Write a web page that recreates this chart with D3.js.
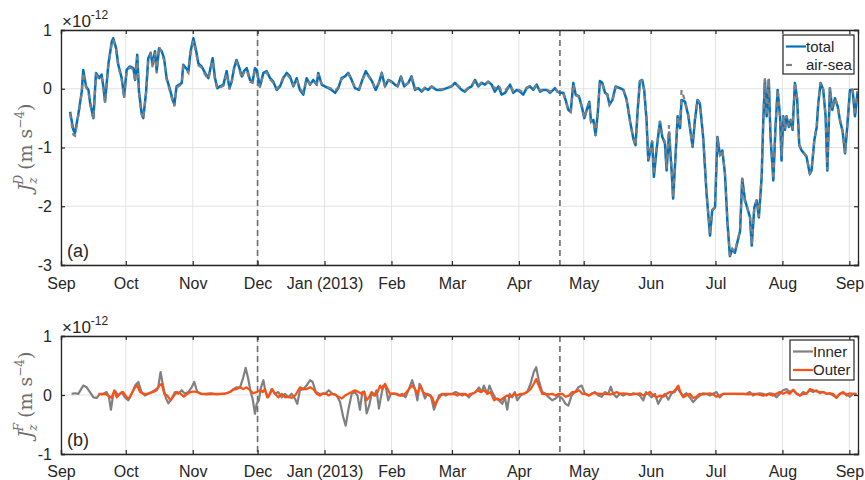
<!DOCTYPE html>
<html>
<head>
<meta charset="utf-8">
<script src="https://cdn.jsdelivr.net/npm/d3@7"></script>
<style>
  body { margin: 0; background: #fff; }
  text { font-family: "Liberation Sans", Arial, sans-serif; fill: #262626; }
</style>
</head>
<body>
<svg id="chart" width="865" height="480"></svg>
<script>
// days since 1 Sep 2012, values in units of 1e-12 m s^-4
const monthLabels = ["Sep", "Oct", "Nov", "Dec", "Jan (2013)", "Feb", "Mar", "Apr", "May", "Jun", "Jul", "Aug", "Sep"];
const topTicks = [-3, -2, -1, 0, 1];
const bottomTicks = [-1, 0, 1];
const eventDays = [91, 231];

const total = [
  [4.2,-0.39],[5.7,-0.70],[6.5,-0.75],[8,-0.44],[9.6,-0.05],[10.3,0.32],[11.6,0.04],[12.7,-0.02],[13.4,-0.22],[15,-0.50],
  [16.2,0.27],[17.7,0.18],[18.8,0.24],[19.6,0.04],[20.4,-0.22],[21.9,0.41],[23.5,0.80],[24.2,0.86],[25.5,0.69],[26.5,0.41],
  [28.1,0.18],[29.2,-0.13],[30.4,0.32],[31.9,0.38],[33.5,0.35],[34.3,0.15],[35.3,0.58],[36.1,-0.05],[37.3,-0.41],[38.1,-0.50],
  [39.4,-0.05],[40.4,0.52],[41.5,0.61],[42.4,0.41],[43.5,0.64],[44.3,0.30],[45.4,0.69],[46.6,0.64],[47.7,0.52],[48.9,0.18],
  [50.5,-0.02],[51.7,-0.19],[52.5,-0.27],[53.5,0.04],[54.8,0.07],[55.9,0.10],[56.6,0.41],[57.9,0.35],[59,0.30],[60,0.64],
  [61.3,0.86],[62.5,0.66],[63.6,0.43],[65.1,0.38],[66.7,0.27],[68.2,0.18],[70.2,0.52],[71.3,0.18],[72.4,0.01],[73.6,0.04],
  [75.2,0.07],[76.7,0.30],[78,0.01],[79,0.12],[80.1,0.35],[81.3,0.49],[82.6,0.35],[83.7,0.21],[84.7,0.30],[86,0.35],
  [87.5,0.15],[88.7,0.12],[89.8,0.35],[90.6,0.32],[92.1,0.04],[93.7,0.27],[95.2,0.30],[96.8,0.18],[98.3,0.12],[99.9,-0.02],
  [101.4,0.04],[102.9,0.18],[104.5,0.27],[106,0.21],[107.6,0.04],[109.1,0.18],[110.6,-0.02],[112.2,-0.10],[113.7,0.18],[115.3,0.07],
  [116.8,0.15],[118.4,0.07],[119.1,0.27],[120.7,0.07],[122.2,0.04],[123.8,0.01],[125.3,-0.02],[126.9,-0.07],[128.4,0.01],[129.9,0.18],
  [131.5,0.21],[133,0.27],[134.6,0.15],[136.1,0.01],[138,-0.02],[139.5,0.15],[141.1,0.30],[142.6,0.21],[144.1,0.12],[145.7,-0.02],
  [147.2,0.10],[148.5,0.27],[150,0.04],[151.5,0.15],[153.1,0.12],[154.6,0.07],[155.9,0.04],[157.4,0.21],[158.9,0.04],[160.8,0.10],
  [162.3,0.21],[163.9,-0.02],[165.4,0.01],[167,-0.05],[168.5,0.01],[170,-0.02],[171.6,0.04],[173.9,-0.02],[176.3,-0.02],[178.6,0.01],
  [180.9,0.04],[182.4,0.10],[183.9,0.04],[185.5,-0.02],[187,-0.05],[188.6,0.01],[190.1,0.04],[191.7,0.15],[193.2,0.04],[194.8,0.10],
  [196.3,0.07],[197.8,0.12],[199.4,0.07],[200.9,-0.05],[202.5,0.04],[204,-0.10],[205.6,-0.07],[207.9,0.07],[209.4,-0.07],[211,-0.02],
  [212.5,-0.05],[214,-0.10],[215.6,0.01],[217.1,0.04],[218.7,-0.02],[220.2,0.07],[221.8,-0.05],[223.3,-0.02],[224.9,-0.02],[226.4,-0.07],
  [227.9,-0.02],[228.7,0.01],[229.9,-0.05],[231,-0.07],[232.6,-0.07],[233.6,-0.19],[234.9,-0.36],[236,-0.39],[237.2,0.10],[238.3,-0.10],
  [239.8,-0.13],[241.1,-0.30],[242.3,-0.50],[243.4,-0.36],[244.6,-0.22],[245.4,-0.56],[246.5,-0.53],[247.5,-0.79],[248.5,-0.42],[249.5,0.13],
  [250.6,0.10],[251.9,-0.07],[253,-0.10],[253.9,-0.27],[255.3,-0.19],[256.8,0.04],[258.8,0.01],[260.4,-0.02],[261.9,-0.19],[263.5,-0.56],
  [265,-0.85],[266,-0.96],[267,-0.36],[268,0.13],[269.1,0.15],[270,-0.02],[271.1,-0.53],[271.9,-1.22],[272.6,-1.10],[273.7,-0.90],
  [274.5,-1.50],[275.7,-1.05],[277.3,-0.56],[278.4,-0.82],[279.6,-0.93],[280.4,-1.39],[281.5,-0.75],[282.7,-1.39],[283.4,-1.87],[284.5,-1.16],
  [285.5,-0.47],[286.6,-0.67],[287.3,-0.19],[288.9,-0.22],[290.4,-0.45],[292.4,-0.99],[293.5,-0.53],[294.7,-0.19],[295.8,-0.25],[297.3,-0.82],
  [298.9,-1.79],[300.5,-2.50],[301.5,-2.07],[302.8,-2.02],[303.9,-0.82],[305.1,-1.13],[306.2,-1.05],[307.4,-1.45],[308.6,-2.30],[309.7,-2.85],
  [310.8,-2.73],[312,-2.79],[313.3,-2.59],[314.4,-2.42],[315.4,-1.53],[316.7,-1.90],[317.9,-2.05],[319,-2.19],[319.8,-2.67],[321,-2.02],
  [322.1,-1.90],[323.1,-2.19],[324.4,-1.50],[325.1,-0.59],[325.9,0.15],[326.7,-0.47],[327.7,0.15],[328.5,-0.82],[329.8,-1.56],[330.8,-0.65],
  [331.8,-0.02],[332.9,-0.47],[333.6,-1.22],[334.4,-0.47],[335.2,-0.70],[335.9,-0.47],[337,-0.65],[337.9,-0.53],[338.7,-0.70],[339.8,0.10],
  [340.8,-0.16],[341.8,-0.96],[342.9,-1.05],[344,-1.10],[345.2,-1.16],[346.7,-1.45],[347.5,-1.39],[348.8,-0.87],[349.9,-0.65],[350.6,-0.25],
  [351.7,0.10],[352.9,-0.02],[354,-0.47],[354.8,-1.39],[356,0.01],[357.1,-0.36],[358.3,-0.16],[359.6,-0.30],[360.6,-0.53],[361.9,-0.73],
  [363,-1.10],[364,-0.65],[365.3,-0.02],[366.5,-0.02],[367.6,-0.47],[368.8,-0.05]
];

const airSea = [
  [4.2,-0.42],[5.7,-0.78],[6.5,-0.80],[8,-0.46],[9.6,-0.08],[10.3,0.28],[11.6,0.02],[12.7,-0.04],[13.4,-0.24],[15,-0.52],
  [16.2,0.24],[17.7,0.16],[18.8,0.20],[19.6,0.02],[20.4,-0.24],[21.9,0.38],[23.5,0.78],[24.2,0.84],[25.5,0.66],[26.5,0.38],
  [28.1,0.16],[29.2,-0.16],[30.4,0.30],[31.9,0.36],[33.5,0.33],[34.3,0.12],[35.3,0.55],[36.1,-0.08],[37.3,-0.44],[38.1,-0.52],
  [39.4,-0.08],[40.4,0.48],[41.5,0.58],[42.4,0.36],[43.5,0.62],[44.3,0.26],[45.4,0.72],[46.6,0.62],[47.7,0.48],[48.9,0.15],
  [50.5,-0.05],[51.7,-0.22],[52.5,-0.30],[53.5,0.02],[54.8,0.05],[55.9,0.08],[56.6,0.38],[57.9,0.32],[59,0.27],[60,0.60],
  [61.3,0.82],[62.5,0.62],[63.6,0.40],[65.1,0.36],[66.7,0.24],[68.2,0.16],[70.2,0.48],[71.3,0.15],[72.4,-0.01],[73.6,0.02],
  [75.2,0.05],[76.7,0.27],[78,-0.01],[79,0.10],[80.1,0.32],[81.3,0.45],[82.6,0.32],[83.7,0.18],[84.7,0.27],[86,0.32],
  [87.5,0.12],[88.7,0.10],[89.8,0.32],[90.6,0.28],[92.1,0.02],[93.7,0.24],[95.2,0.28],[96.8,0.16],[98.3,0.10],[99.9,0.00],
  [101.4,0.06],[102.9,0.20],[104.5,0.25],[106,0.18],[107.6,0.06],[109.1,0.16],[110.6,0.00],[112.2,-0.06],[113.7,0.16],[115.3,0.08],
  [116.8,0.14],[118.4,0.08],[119.1,0.25],[120.7,0.08],[122.2,0.05],[123.8,0.02],[125.3,0.00],[126.9,-0.04],[128.4,0.03],[129.9,0.16],
  [131.5,0.20],[133,0.25],[134.6,0.14],[136.1,0.02],[138,0.00],[139.5,0.14],[141.1,0.27],[142.6,0.20],[144.1,0.11],[145.7,0.00],
  [147.2,0.10],[148.5,0.25],[150,0.05],[151.5,0.14],[153.1,0.11],[154.6,0.07],[155.9,0.05],[157.4,0.19],[158.9,0.05],[160.8,0.10],
  [162.3,0.19],[163.9,0.00],[165.4,0.02],[167,-0.03],[168.5,0.02],[170,0.00],[171.6,0.04],[173.9,0.00],[176.3,-0.01],[178.6,0.02],
  [180.9,0.05],[182.4,0.10],[183.9,0.05],[185.5,0.00],[187,-0.03],[188.6,0.02],[190.1,0.05],[191.7,0.14],[193.2,0.06],[194.8,0.11],
  [196.3,0.08],[197.8,0.12],[199.4,0.08],[200.9,0.00],[202.5,0.07],[204,-0.05],[205.6,-0.03],[207.9,0.07],[209.4,-0.04],[211,0.00],
  [212.5,-0.03],[214,-0.06],[215.6,0.02],[217.1,0.05],[218.7,0.00],[220.2,0.07],[221.8,-0.03],[223.3,-0.01],[224.9,-0.01],[226.4,-0.05],
  [227.9,-0.01],[228.7,0.01],[229.9,-0.05],[231,-0.08],[232.6,-0.08],[233.6,-0.20],[234.9,-0.37],[236,-0.40],[237.2,0.08],[238.3,-0.11],
  [239.8,-0.14],[241.1,-0.31],[242.3,-0.51],[243.4,-0.37],[244.6,-0.23],[245.4,-0.57],[246.5,-0.54],[247.5,-0.80],[248.5,-0.43],[249.5,0.12],
  [250.6,0.09],[251.9,-0.08],[253,-0.11],[253.9,-0.28],[255.3,-0.20],[256.8,0.03],[258.8,0.00],[260.4,-0.03],[261.9,-0.20],[263.5,-0.57],
  [265,-0.86],[266,-0.97],[267,-0.37],[268,0.12],[269.1,0.14],[270,-0.03],[271.1,-0.54],[271.9,-1.20],[272.6,-1.12],[273.7,-0.88],
  [274.5,-1.47],[275.7,-1.02],[277.3,-0.55],[278.4,-0.80],[279.6,-0.90],[280.4,-1.36],[281.5,-0.62],[282.7,-1.36],[283.4,-1.85],[284.5,-1.14],
  [285.5,-0.46],[286.6,-0.64],[287.3,-0.02],[288.9,-0.21],[290.4,-0.44],[292.4,-0.98],[293.5,-0.52],[294.7,-0.18],[295.8,-0.24],[297.3,-0.81],
  [298.9,-1.78],[300.5,-2.48],[301.5,-2.06],[302.8,-2.01],[303.9,-0.82],[305.1,-1.12],[306.2,-1.04],[307.4,-1.44],[308.6,-2.29],[309.7,-2.84],
  [310.8,-2.72],[312,-2.78],[313.3,-2.58],[314.4,-2.41],[315.4,-1.52],[316.7,-1.95],[317.9,-2.04],[319,-2.18],[319.8,-2.66],[321,-2.01],
  [322.1,-1.89],[323.1,-2.18],[324.4,-1.49],[325.1,-0.58],[325.9,0.18],[326.7,-0.46],[327.7,0.18],[328.5,-0.81],[329.8,-1.55],[330.8,-0.64],
  [331.8,-0.01],[332.9,-0.46],[333.6,-1.15],[334.4,-0.46],[335.2,-0.69],[335.9,-0.46],[337,-0.64],[337.9,-0.52],[338.7,-0.69],[339.8,0.11],
  [340.8,-0.15],[341.8,-0.95],[342.9,-1.04],[344,-1.09],[345.2,-1.15],[346.7,-1.44],[347.5,-1.38],[348.8,-0.86],[349.9,-0.64],[350.6,-0.24],
  [351.7,0.11],[352.9,-0.01],[354,-0.46],[354.8,-1.38],[356,0.02],[357.1,-0.35],[358.3,-0.15],[359.6,-0.29],[360.6,-0.52],[361.9,-0.72],
  [363,-1.09],[364,-0.64],[365.3,-0.01],[366.5,-0.01],[367.6,-0.46],[368.8,-0.04]
];

const inner = [
  [4.9,0.02],[6.5,0.03],[8,0.02],[10.3,0.16],[11.9,0.13],[13.4,0.05],[15,-0.04],[16.5,-0.05],[18,0.02],[19.6,0.02],
  [21.1,0.05],[22.2,-0.04],[23.1,-0.25],[24.2,0.02],[25.3,0.06],[26.5,-0.01],[28.1,0.05],[29.6,-0.04],[31.2,-0.09],[32.7,0.02],
  [34.3,0.16],[35.8,0.22],[37.3,0.05],[38.9,-0.01],[40.4,0.02],[41.9,0.05],[43.5,0.08],[45,0.13],[46.1,0.39],[47.4,0.13],
  [48.6,-0.06],[49.7,-0.14],[51.2,-0.06],[52.8,0.05],[54.3,0.02],[55.9,0.08],[57.4,0.02],[58.9,0.05],[60.5,0.13],[61.7,0.22],
  [63.1,0.05],[64.6,0.02],[66.7,0.02],[69,0.03],[71.3,0.02],[73.6,0.02],[75.9,0.02],[78.2,0.05],[79.8,0.10],[81.3,0.13],
  [82.9,0.13],[84.4,0.30],[85.5,0.46],[86.7,0.27],[87.8,0.05],[88.7,-0.06],[89.8,-0.32],[90.6,-0.15],[91.6,-0.09],[92.6,0.13],
  [93.7,0.25],[94.7,0.05],[96,-0.04],[97.5,0.10],[99.1,0.02],[100.6,0.05],[102.2,-0.04],[103.7,0.02],[105.2,-0.04],[106.8,0.02],
  [108.3,-0.06],[109.4,-0.15],[110.6,0.08],[112.2,0.10],[113.7,0.16],[115.3,0.25],[116.5,0.22],[118,0.05],[119.6,0.02],[121.4,0.02],
  [122.2,0.02],[124,0.08],[125.6,0.02],[127.6,-0.01],[129.2,-0.12],[130.7,-0.38],[131.8,-0.52],[133,-0.26],[134.6,0.02],[136.1,0.05],
  [137.3,-0.01],[138.4,-0.25],[139.5,0.05],[140.4,0.06],[141.5,-0.31],[142.7,-0.18],[143.8,0.02],[145,-0.01],[146.1,0.08],[147.2,-0.23],
  [148.1,-0.04],[149.2,0.16],[150.4,0.13],[151.5,-0.09],[152.7,0.02],[154.6,0.02],[156.4,-0.01],[158,0.02],[159.5,-0.04],[161.1,0.10],
  [162.6,0.25],[163.9,0.10],[165,-0.09],[166,0.19],[167.3,0.08],[168.5,-0.06],[169.6,0.02],[171.2,-0.01],[172.7,-0.25],[173.9,-0.12],
  [175,-0.01],[176.5,0.02],[178.1,-0.01],[179.6,0.02],[181.2,0.02],[182.7,0.05],[184.3,0.02],[185.8,-0.01],[187.3,0.02],[188.9,-0.04],
  [190.4,0.02],[192,0.05],[193.5,0.13],[194.7,0.05],[195.8,0.16],[197.4,0.02],[198.4,0.16],[199.6,0.05],[201.2,-0.06],[202.7,-0.09],
  [204.3,-0.15],[205.5,-0.04],[206.6,-0.25],[207.7,0.02],[208.9,-0.04],[210.1,0.05],[211.2,-0.09],[212.8,-0.01],[214.3,0.02],[215.8,0.05],
  [217.4,0.19],[218.9,0.39],[220,0.47],[221.2,0.25],[222.8,0.05],[224.3,0.02],[225.9,-0.04],[227.4,-0.09],[229,-0.06],[230.5,-0.01],
  [232.1,-0.06],[233.6,-0.15],[234.9,-0.18],[236.4,-0.01],[238,0.05],[239.5,0.13],[241.1,0.16],[242.6,0.02],[244.4,-0.01],[247.2,0.05],
  [248.8,-0.01],[250.3,-0.03],[251.8,0.05],[253.4,0.02],[254.5,0.14],[255.7,0.02],[257.2,-0.04],[258.8,0.02],[260.3,-0.01],[261.9,0.02],
  [263.4,0.00],[265,0.03],[266.5,0.02],[268,-0.01],[269.6,-0.09],[270.8,0.05],[271.9,0.02],[273.4,-0.04],[275,0.02],[276.5,-0.15],
  [278.1,-0.04],[279.6,0.02],[281.2,-0.08],[282.7,0.03],[284.2,0.05],[285.3,0.13],[286.5,0.05],[288,-0.01],[289.6,0.03],[291.1,-0.04],
  [292.7,-0.12],[294.2,-0.06],[295.7,-0.01],[297.3,0.03],[298.8,0.02],[300.4,-0.01],[301.9,0.02],[303.5,0.05],[305,-0.04],[306.6,0.02],
  [308.1,0.02],[310.4,0.02],[312.7,0.02],[315,0.02],[317.4,0.02],[318.9,0.05],[320.4,-0.01],[322,0.02],[323.5,0.03],[325.1,0.02],
  [326.6,-0.01],[328.2,0.03],[329.7,0.02],[331.2,-0.04],[332.8,0.02],[334.3,0.08],[335.9,0.10],[337.4,0.05],[339,0.08],[340.5,0.02],
  [342.1,-0.01],[343.6,0.05],[345.1,0.02],[346.7,0.08],[348.2,0.05],[349.8,0.08],[351.3,0.03],[352.9,0.05],[354.4,0.02],[355.9,0.03],
  [357.5,-0.01],[359,-0.04],[360.6,0.02],[362.1,0.03],[363.7,0.02],[365.2,-0.03],[366.7,0.02],[368.3,0.02]
];

const outer = [
  [17.3,0.02],[18.8,0.01],[20.4,0.02],[21.9,-0.01],[23.4,-0.05],[24.7,0.08],[25.8,-0.04],[27.3,0.02],[28.8,0.05],[30.4,-0.04],
  [31.5,-0.06],[32.7,0.02],[34.3,0.13],[35.3,0.16],[36.6,0.05],[38.1,0.02],[39.6,0.02],[41.2,0.03],[42.7,0.05],[44.3,0.08],
  [45.5,0.16],[46.6,0.19],[47.8,0.02],[49.2,-0.01],[50.7,-0.09],[52.3,-0.01],[53.8,0.05],[55.4,0.02],[56.9,-0.03],[58.5,0.02],
  [60,0.05],[61.6,0.06],[63.1,0.05],[65.1,0.02],[67.4,0.01],[69.8,0.02],[72.1,0.01],[74.4,0.02],[76.7,0.03],[78.2,0.05],
  [79.8,0.09],[81.3,0.10],[82.9,0.13],[84.4,0.10],[85.9,0.13],[87.5,0.08],[89,0.03],[90.6,0.05],[92.1,0.08],[93.4,0.05],
  [94.4,0.10],[95.5,-0.04],[96.8,0.02],[97.8,0.10],[99.1,0.02],[100.6,-0.04],[102.2,0.02],[103.7,-0.04],[105.2,-0.03],[106.8,-0.05],
  [108.3,-0.01],[109.4,0.05],[110.6,0.13],[112.2,0.10],[113.7,0.10],[115.3,0.13],[116.8,0.10],[118.4,0.02],[119.9,-0.01],[121.4,0.03],
  [123,0.02],[123.8,-0.01],[125.3,0.02],[126.9,0.01],[128.4,-0.03],[130,-0.06],[131.5,-0.01],[133,0.02],[134.6,0.05],[136.1,0.08],
  [137.7,0.05],[139.2,0.02],[140.4,0.05],[141.5,-0.09],[142.6,-0.04],[143.8,0.05],[145.4,-0.01],[146.6,0.05],[147.7,0.16],[148.8,0.10],
  [150,0.19],[151.2,0.10],[152.3,0.02],[153.9,0.03],[155.4,0.02],[157,-0.01],[158.5,-0.01],[160,0.05],[161.1,0.10],[162.6,0.16],
  [163.9,0.10],[165,0.02],[166.5,0.16],[167.6,0.05],[168.8,0.02],[170.4,-0.01],[171.9,-0.04],[173.1,-0.18],[174.2,-0.09],[175.8,-0.01],
  [177.3,0.02],[178.9,0.02],[180.4,0.01],[182,0.02],[183.5,-0.01],[185,0.02],[186.6,0.02],[188.1,-0.01],[189.7,0.02],[191.2,0.03],
  [192.7,0.08],[194.3,0.05],[195.8,0.08],[197.4,0.02],[198.9,0.05],[200.5,-0.09],[202,-0.06],[203.5,-0.09],[205.1,-0.04],[206.6,-0.01],
  [208.2,-0.03],[209.7,0.02],[211.2,-0.01],[212.8,0.02],[214.3,0.02],[215.8,0.05],[217.4,0.10],[218.9,0.19],[220,0.27],[221.2,0.16],
  [222.8,0.02],[224.3,0.02],[225.9,0.01],[227.4,0.02],[229,-0.01],[230.5,0.02],[232.1,0.02],[233.6,-0.03],[235.2,-0.01],[236.7,0.05],
  [238.3,0.05],[239.8,0.08],[241.4,0.02],[242.9,0.02],[244.4,-0.01],[246,0.03],[247.2,0.03],[249.5,0.02],[251.8,0.02],[254.1,0.01],
  [255.7,0.02],[257.2,0.05],[258.8,0.02],[260.3,0.03],[262.2,0.02],[264.2,0.01],[266.5,0.02],[268,0.03],[269.6,-0.01],[271.1,0.02],
  [272.7,0.05],[274.2,-0.01],[275.8,-0.04],[277.3,-0.01],[278.9,-0.03],[280.4,0.02],[281.9,0.05],[283.5,0.05],[284.7,0.10],[285.8,0.16],
  [286.8,0.05],[288,-0.04],[289.6,-0.01],[291.1,0.02],[292.7,-0.05],[294.2,-0.03],[295.7,0.02],[297.3,0.01],[298.8,0.02],[300.4,0.03],
  [301.9,0.01],[303.5,-0.03],[305,-0.01],[306.6,0.02],[308.9,0.02],[311.2,0.02],[313.5,0.02],[315.8,0.02],[318.1,0.01],[320.4,0.02],
  [322.8,0.01],[325.1,-0.01],[327.4,0.02],[329.7,-0.01],[331.2,0.02],[332.8,0.05],[334.3,0.02],[335.9,0.05],[337.4,0.02],[339,0.09],
  [340.5,0.03],[342.1,-0.01],[343.6,0.02],[345.1,0.02],[346.7,0.10],[348.2,0.08],[349.8,0.06],[351.3,0.05],[352.9,0.05],[354.4,0.02],
  [355.9,0.03],[357.5,0.02],[359,-0.05],[360.6,0.02],[362.1,0.05],[363.7,-0.01],[365.2,0.03],[366.7,0.02],[368.3,0.02]
];

const svg = d3.select("#chart");
const t0 = Date.UTC(2012, 8, 1);
const toDate = (day) => new Date(t0 + day * 864e5);

const left = 61, right = 858;
const x = d3.scaleUtc().domain([toDate(0), toDate(369)]).range([left, right]);
const monthTicks = d3.utcMonth.range(toDate(0), toDate(369));

const ink = "#262626";

const drawPanel = (top, bottom, yDomain, yTicks, tag, labelSup, padX, id) => {
  const y = d3.scaleLinear().domain(yDomain).range([bottom, top]);
  const g = svg.append("g");

  g.append("clipPath").attr("id", id)
    .append("rect").attr("x", left).attr("y", top).attr("width", right - left).attr("height", bottom - top);

  // grid
  g.append("g").selectAll("line").data(monthTicks).enter().append("line")
    .attr("x1", d => x(d)).attr("x2", d => x(d)).attr("y1", top).attr("y2", bottom)
    .attr("stroke", "#e3e3e3").attr("stroke-width", 1);
  g.append("g").selectAll("line").data(yTicks).enter().append("line")
    .attr("x1", left).attr("x2", right).attr("y1", d => y(d)).attr("y2", d => y(d))
    .attr("stroke", "#e3e3e3").attr("stroke-width", 1);

  // event markers
  g.append("g").selectAll("line").data(eventDays).enter().append("line")
    .attr("x1", d => x(toDate(d))).attr("x2", d => x(toDate(d)))
    .attr("y1", top).attr("y2", bottom)
    .attr("stroke", "#6b6b6b").attr("stroke-width", 1.6).attr("stroke-dasharray", "6,4");

  const plot = g.append("g").attr("clip-path", `url(#${id})`);

  // axes
  const xb = d3.axisBottom(x).tickValues(monthTicks).tickSize(-4).tickPadding(padX)
    .tickFormat((d, i) => monthLabels[i]);
  const xt = d3.axisTop(x).tickValues(monthTicks).tickSize(-4).tickFormat("");
  const yl = d3.axisLeft(y).tickValues(yTicks).tickSize(-4).tickPadding(9).tickFormat(d3.format("d"));
  const yr = d3.axisRight(y).tickValues(yTicks).tickSize(-4).tickFormat("");

  const axes = [
    [xb, `translate(0,${bottom})`],
    [xt, `translate(0,${top})`],
    [yl, `translate(${left},0)`],
    [yr, `translate(${right},0)`]
  ];
  axes.forEach(([ax, tr]) => {
    const a = g.append("g").attr("transform", tr).call(ax);
    a.select(".domain").attr("stroke", ink).attr("stroke-width", 1.3);
    a.selectAll(".tick line").attr("stroke", ink).attr("stroke-width", 1.2);
    a.selectAll("text").attr("font-size", 16).attr("fill", ink)
      .style("font-family", "'Liberation Sans', Arial, sans-serif");
  });
  // minus sign like the original (hyphen)
  g.selectAll(".tick text").text(function () { return this.textContent.replace("\u2212", "-"); });

  // exponent
  const ex = g.append("text").attr("x", left + 1).attr("y", top - 3).attr("font-size", 17);
  ex.append("tspan").text("\u00d710");
  ex.append("tspan").attr("dy", -8).attr("font-size", 12).text("-12");

  // panel tag
  g.append("text").attr("x", left + 6).attr("y", bottom - 8).attr("font-size", 18).text(tag);

  // y label
  const yl2 = g.append("text")
    .attr("transform", `translate(32,${(top + bottom) / 2}) rotate(-90)`)
    .attr("text-anchor", "middle")
    .style("font-family", "'DejaVu Serif', 'Liberation Serif', serif")
    .style("fill", "#6e6e6e")
    .attr("font-size", 19);
  yl2.append("tspan").attr("font-style", "italic").text("J");
  yl2.append("tspan").attr("font-style", "italic").attr("font-size", 12).attr("dy", 5).text("z");
  yl2.append("tspan").attr("font-style", "italic").attr("font-size", 12).attr("dx", -7).attr("dy", -14).text(labelSup);
  yl2.append("tspan").attr("dx", 5).attr("dy", 9).text("(m s");
  yl2.append("tspan").attr("font-size", 12).attr("dy", -8).text("\u22124");
  yl2.append("tspan").attr("dy", 8).text(")");

  return { y, plot };
};

const line = (y) => d3.line().x(d => x(toDate(d[0]))).y(d => y(d[1]));

// panel (a)
const pa = drawPanel(30, 265, [-3, 1], topTicks, "(a)", "D", 13, "clipA");
pa.plot.append("path").datum(total).attr("d", line(pa.y))
  .attr("fill", "none").attr("stroke", "#0072BD").attr("stroke-width", 2.5).attr("stroke-linejoin", "round");
pa.plot.append("path").datum(airSea).attr("d", line(pa.y))
  .attr("fill", "none").attr("stroke", "#808080").attr("stroke-width", 2.2).attr("stroke-dasharray", "5,5");

// panel (b)
const pb = drawPanel(336, 454, [-1, 1], bottomTicks, "(b)", "F", 12, "clipB");
pb.plot.append("path").datum(inner).attr("d", line(pb.y))
  .attr("fill", "none").attr("stroke", "#808080").attr("stroke-width", 2.2).attr("stroke-linejoin", "round");
pb.plot.append("path").datum(outer).attr("d", line(pb.y))
  .attr("fill", "none").attr("stroke", "#FF5014").attr("stroke-width", 2.2).attr("stroke-linejoin", "round");

// legends
const legend = (lx, ly, w, h, items) => {
  const g = svg.append("g");
  g.append("rect").attr("x", lx).attr("y", ly).attr("width", w).attr("height", h)
    .attr("fill", "#fff").attr("stroke", ink).attr("stroke-width", 1.2);
  items.forEach((it, i) => {
    const yy = ly + 11.5 + i * 18.5;
    g.append("line").attr("x1", lx + 3).attr("x2", lx + 23).attr("y1", yy).attr("y2", yy)
      .attr("stroke", it.color).attr("stroke-width", 2.2)
      .attr("stroke-dasharray", it.dash || null);
    g.append("text").attr("x", lx + 23).attr("y", yy + 5).attr("font-size", 15).text(it.name);
  });
};
legend(783, 35, 71, 39, [
  { name: "total", color: "#0072BD" },
  { name: "air-sea", color: "#808080", dash: "6,14" }
]);
legend(790, 340, 64, 40, [
  { name: "Inner", color: "#808080" },
  { name: "Outer", color: "#FF5014" }
]);
</script>
</body>
</html>
